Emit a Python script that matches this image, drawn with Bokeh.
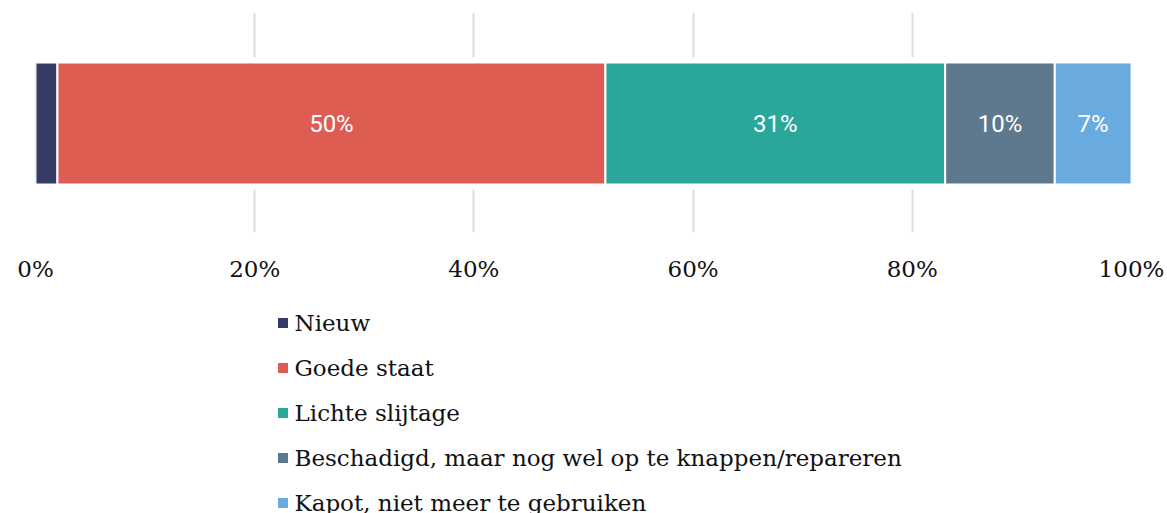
from bokeh.plotting import figure
from bokeh.layouts import column
from bokeh.models import Range1d, FixedTicker, PrintfTickFormatter, Legend, LegendItem, ColumnDataSource
from bokeh.core.properties import value
from bokeh.embed import file_html
from bokeh.resources import INLINE

categories = ["Nieuw", "Goede staat", "Lichte slijtage",
              "Beschadigd, maar nog wel op te knappen/repareren",
              "Kapot, niet meer te gebruiken"]
percentages = [2, 50, 31, 10, 7]
colors = ["#363b65", "#dd5d52", "#2aa69b", "#5e798d", "#69abdf"]
tick_values = [0, 20, 40, 60, 80, 100]

lefts, rights = [], []
acc = 0
for v in percentages:
    lefts.append(acc)
    acc += v
    rights.append(acc)

# ---- bar chart ----
p = figure(width=1167, height=290, x_range=Range1d(0, 100), y_range=Range1d(0, 1),
           output_backend="svg", toolbar_location=None, y_axis_location=None,
           min_border_left=35, min_border_right=36, min_border_top=12, min_border_bottom=58)
p.outline_line_color = None

p.xgrid.ticker = FixedTicker(ticks=tick_values)
p.xgrid.grid_line_color = "#dddddd"
p.xgrid.grid_line_width = 2
p.ygrid.visible = False

xa = p.xaxis[0]
xa.ticker = FixedTicker(ticks=tick_values)
xa.formatter = PrintfTickFormatter(format="%d%%")
xa.axis_line_color = None
xa.major_tick_line_color = None
xa.minor_tick_line_color = None
xa.major_label_text_font = "DejaVu Serif"
xa.major_label_text_font_size = "23px"
xa.major_label_text_color = "#111111"
xa.major_label_standoff = 17

BAR_Y = 0.4955
BAR_H = 0.5545

# white band masking grid lines behind the bar
p.hbar(y=[BAR_Y], left=[-2], right=[102], height=BAR_H + 0.045,
       fill_color="white", line_color=None)

for l, r, c in zip(lefts, rights, colors):
    p.hbar(y=[BAR_Y], left=[l], right=[r], height=BAR_H,
           fill_color=c, line_color="white", line_width=2)

lab = [(f"{v}%", (l + r) / 2) for v, l, r in zip(percentages, lefts, rights) if v >= 5]
src = ColumnDataSource(dict(x=[t[1] for t in lab], y=[BAR_Y] * len(lab), t=[t[0] for t in lab]))
p.text(x="x", y="y", text="t", source=src, text_color="white",
       text_font=value("Roboto"), text_font_size="24px", y_offset=1,
       text_align="center", text_baseline="middle")

# ---- legend panel ----
lg = figure(width=1167, height=223, x_range=Range1d(0, 100), y_range=Range1d(0, 1),
            output_backend="svg", toolbar_location=None,
            x_axis_location=None, y_axis_location=None,
            min_border_left=35, min_border_right=36, min_border_top=0, min_border_bottom=0)
lg.outline_line_color = None
lg.xgrid.visible = False
lg.ygrid.visible = False

items = []
for cat, l, r, c in zip(categories, lefts, rights, colors):
    # legend carrier: square marker kept outside this panel's visible range
    rnd = lg.scatter(x=[(l + r) / 2], y=[5], marker="square", size=10,
                     fill_color=c, line_color=None)
    items.append(LegendItem(label=cat, renderers=[rnd]))

legend = Legend(items=items, location=(234.5, -4.5), orientation="vertical",
                label_text_font="DejaVu Serif", label_text_font_size="23px",
                label_text_color="#111111",
                glyph_width=25, glyph_height=25, label_standoff=0,
                label_height=30, spacing=15, padding=0, margin=0,
                border_line_color=None, background_fill_alpha=0)
lg.add_layout(legend, "center")

layout = column(p, lg, spacing=0)
open("out.html", "w").write(file_html(layout, INLINE))
